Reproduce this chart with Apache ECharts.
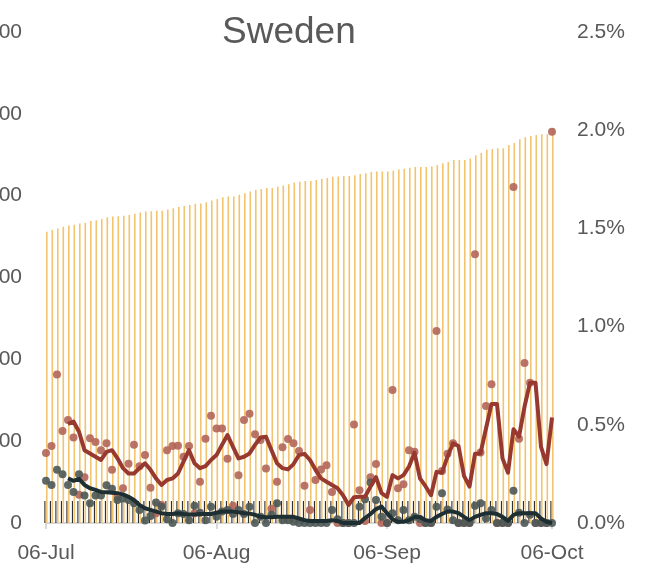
<!DOCTYPE html>
<html>
<head>
<meta charset="utf-8">
<script src="https://cdn.jsdelivr.net/npm/echarts@6/dist/echarts.min.js"></script>
<style>
  html, body { margin: 0; padding: 0; background: #fff; }
  #chart { width: 652px; height: 566px; }
</style>
</head>
<body>
<div id="chart"></div>
<script>
// 06-Jul .. 06-Oct, one entry per day
const months = ['Jan', 'Feb', 'Mar', 'Apr', 'May', 'Jun', 'Jul', 'Aug', 'Sep', 'Oct', 'Nov', 'Dec']
const days = []
for (let d = new Date(2020, 6, 6); d <= new Date(2020, 9, 6); d.setDate(d.getDate() + 1)) {
  days.push(String(d.getDate()).padStart(2, '0') + '-' + months[d.getMonth()])
}
const tickLabels = ['06-Jul', '06-Aug', '06-Sep', '06-Oct']

// cumulative cases (hundreds)
const cumulative = [
  712, 716, 720, 724, 727, 729, 732, 734, 738, 740, 743, 747, 749, 750, 751, 753,
  756, 759, 761, 762, 763, 763, 766, 769, 772, 775, 777, 780, 781, 784, 788, 792,
  796, 798, 798, 802, 806, 810, 814, 816, 819, 819, 822, 825, 828, 832, 834, 836,
  836, 838, 841, 843, 846, 847, 848, 848, 850, 853, 855, 858, 859, 859, 859, 861,
  864, 866, 868, 870, 870, 870, 871, 875, 879, 882, 887, 887, 887, 891, 899, 904,
  912, 914, 916, 916, 924, 929, 938, 943, 946, 948, 950, 950, 965
]

// short black bars
const baseline = new Array(93).fill(54)

// daily cases
const daily = [
  171, 188, 363, 225, 252, 209, 69, 112, 207, 198, 178, 195, 130, 64, 85, 145,
  191, 139, 166, 86, 24, 44, 178, 188, 189, 162, 188, 24, 101, 206, 262, 231,
  231, 157, 42, 117, 252, 267, 217, 203, 133, 35, 101, 185, 205, 195, 176, 91,
  32, 105, 131, 141, 76, 0, 0, 0, 241, 80, 5, 112, 144, 0, 0, 325,
  85, 95, 178, 174, 0, 0, 0, 469, 127, 169, 195, 0, 0, 0, 657, 172,
  286, 339, 0, 0, 0, 821, 206, 391, 343, 0, 0, 0, 956
]

const dailyAvg = [
  null, null, null, null, 242, 248, 223, 178, 170, 162, 154, 174, 178, 158, 134, 121,
  121, 134, 146, 130, 109, 93, 105, 109, 121, 150, 178, 146, 134, 139, 154, 166,
  191, 215, 186, 158, 162, 170, 191, 209, 211, 178, 146, 134, 131, 144, 166, 169,
  154, 130, 109, 101, 93, 85, 68, 44, 63, 64, 64, 89, 112, 73, 64, 117,
  109, 117, 138, 172, 109, 90, 68, 125, 123, 162, 195, 188, 115, 89, 169, 170,
  231, 291, 291, 158, 123, 229, 211, 284, 343, 343, 186, 144, 258
]

// deaths
const deaths = [
  103, 93, 130, 119, 93, 76, 119, 67, 48, 67, 67, 92, 84, 56, 60, 56,
  48, 32, 6, 17, 50, 40, 9, 0, 24, 22, 7, 42, 25, 7, 40, 15,
  28, 32, 22, 32, 22, 40, 0, 15, 0, 20, 48, 7, 7, 3, 0, 0,
  0, 0, 0, 0, 32, 9, 0, 0, 0, 40, 58, 99, 56, 15, 0, 24,
  7, 32, 7, 15, 10, 0, 0, 40, 73, 33, 7, 0, 0, 0, 42, 48,
  11, 32, 0, 0, 0, 79, 25, 0, 20, 0, 0, 0, 0
]

const deathsAvg = [
  null, null, null, null, 109, 103, 108, 93, 85, 81, 76, 75, 74, 73, 70, 64,
  56, 44, 36, 32, 28, 24, 22, 22, 24, 22, 21, 21, 22, 22, 22, 25,
  28, 28, 28, 26, 24, 23, 20, 15, 14, 14, 15, 15, 15, 15, 11, 7,
  5, 5, 5, 5, 7, 5, 0, 0, 0, 0, 12, 22, 34, 40, 24, 9,
  3, 3, 7, 15, 14, 7, 5, 15, 22, 28, 28, 24, 15, 7, 15, 20,
  24, 24, 22, 15, 5, 20, 24, 24, 24, 24, 11, 3, 0
]

const textColor = '#595959'
const tickIdx = days.map((d, i) => tickLabels.includes(d) ? i : -1).filter(i => i >= 0)
const showTick = (idx) => tickIdx.includes(idx)

const chart = echarts.init(document.getElementById('chart'))

const option = {
  animation: false,
  title: {
    text: 'Sweden',
    left: 217,
    top: 9,
    textStyle: { color: textColor, fontSize: 37, fontWeight: 'normal', fontFamily: 'Liberation Sans' }
  },
  grid: {
    left: 46,
    right: 100,
    top: 32,
    bottom: 43,
    outerBoundsMode: 'none',
    containLabel: false
  },
  xAxis: {
    type: 'category',
    data: days,
    boundaryGap: false,
    axisLine: { lineStyle: { color: '#d9d9d9', width: 2 } },
    axisTick: { interval: showTick, length: 6, lineStyle: { color: '#d9d9d9', width: 2 } },
    axisLabel: {
      interval: showTick,
      margin: 20,
      color: textColor,
      fontSize: 21,
      fontFamily: 'Liberation Sans'
    },
    splitLine: { show: false }
  },
  yAxis: [
    {
      type: 'value',
      min: 0,
      max: 1200,
      interval: 200,
      axisLine: { show: false },
      axisTick: { show: false },
      splitLine: { show: false },
      axisLabel: {
        margin: 24,
        color: textColor,
        fontSize: 21,
        fontFamily: 'Liberation Sans',
        formatter: v => String(v)
      }
    },
    {
      type: 'value',
      min: 0,
      max: 2.5,
      interval: 0.5,
      position: 'right',
      axisLine: { show: false },
      axisTick: { show: false },
      splitLine: { show: false },
      axisLabel: {
        margin: 25,
        color: textColor,
        fontSize: 21,
        fontFamily: 'Liberation Sans',
        formatter: v => v.toFixed(1) + '%'
      }
    }
  ],
  series: [
    {
      name: 'baseline',
      type: 'bar',
      data: baseline,
      barWidth: 1,
      barGap: '60%',
      itemStyle: { color: '#1a1a1a' },
      z: 1
    },
    {
      name: 'cumulative',
      type: 'bar',
      data: cumulative,
      barWidth: 1.6,
      itemStyle: { color: '#f2c470' },
      z: 1
    },
    {
      name: 'daily',
      type: 'scatter',
      data: daily,
      symbolSize: 8,
      itemStyle: { color: '#b3665a', opacity: 0.9 },
      z: 3
    },
    {
      name: 'deaths',
      type: 'scatter',
      data: deaths,
      symbolSize: 8,
      itemStyle: { color: '#4b5856', opacity: 0.9 },
      z: 4
    },
    {
      name: 'dailyAvg',
      type: 'line',
      data: dailyAvg,
      showSymbol: false,
      lineStyle: { color: '#97392e', width: 4, join: 'round' },
      z: 5
    },
    {
      name: 'deathsAvg',
      type: 'line',
      data: deathsAvg,
      showSymbol: false,
      lineStyle: { color: '#1e2f33', width: 4, join: 'round' },
      z: 6
    }
  ]
}

chart.setOption(option)
</script>
</body>
</html>
